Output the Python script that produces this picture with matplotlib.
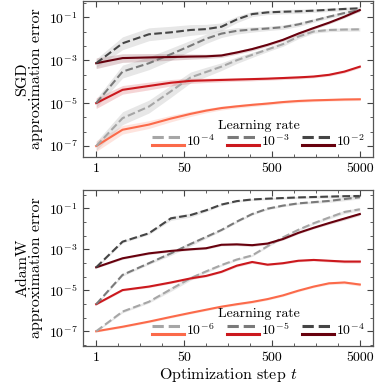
import matplotlib
matplotlib.use('Agg')
import matplotlib.pyplot as plt
import matplotlib.ticker as mticker
from matplotlib.lines import Line2D
from matplotlib.legend_handler import HandlerBase
import numpy as np

plt.rcParams['font.family'] = 'serif'
plt.rcParams['font.serif'] = ['cmr10', 'DejaVu Serif']
plt.rcParams['mathtext.fontset'] = 'cm'
plt.rcParams['axes.unicode_minus'] = False

# evaluation positions (equally spaced axis, labelled 1 / 50 / 500 / 5000)
x_pos = [0, 1.2, 2.4, 3.4, 4.3, 5.0, 5.7, 6.4, 7.1, 7.8, 8.5, 9.2, 9.9, 10.6, 11.3, 12]
tick_pos = [0, 4, 8, 12]
tick_labels = ['1', '50', '500', '5000']

# log10 of approximation error, SGD (gray = dashed, red = solid)
sgd_lrs = [r'$10^{-4}$', r'$10^{-3}$', r'$10^{-2}$']
sgd_gray = [
    [-7.0, -5.7, -5.16, -4.45, -3.8, -3.55, -3.3, -3.0, -2.75, -2.5, -2.25, -1.9, -1.66, -1.59, -1.57, -1.56],
    [-5.0, -3.53, -3.14, -2.72, -2.32, -2.0, -1.76, -1.63, -1.57, -1.52, -1.46, -1.33, -1.15, -0.97, -0.8, -0.66],
    [-3.14, -2.21, -1.79, -1.7, -1.59, -1.55, -1.44, -1.1, -0.85, -0.77, -0.74, -0.72, -0.69, -0.65, -0.61, -0.58],
]
sgd_red = [
    [-7.0, -6.24, -6.0, -5.72, -5.5, -5.35, -5.23, -5.15, -5.08, -5.02, -4.95, -4.9, -4.87, -4.85, -4.83, -4.82],
    [-5.0, -4.38, -4.2, -4.05, -3.96, -3.94, -3.92, -3.9, -3.88, -3.86, -3.83, -3.8, -3.76, -3.68, -3.53, -3.3],
    [-3.14, -2.9, -2.87, -2.85, -2.83, -2.82, -2.78, -2.64, -2.48, -2.28, -2.05, -1.76, -1.5, -1.25, -0.97, -0.66],
]
sgd_band_gray = [0.2, 0.3, 0.3, 0.28, 0.25, 0.22, 0.18, 0.15, 0.12, 0.1, 0.1, 0.1, 0.08, 0.08, 0.08, 0.08]
sgd_band_red = [0.25, 0.2, 0.18, 0.15, 0.12, 0.1, 0.09, 0.08, 0.08, 0.07, 0.07, 0.07, 0.06, 0.06, 0.06, 0.06]

# log10 of approximation error, AdamW
adam_lrs = [r'$10^{-6}$', r'$10^{-5}$', r'$10^{-4}$']
adam_gray = [
    [-7.0, -6.04, -5.56, -4.95, -4.41, -4.08, -3.77, -3.5, -3.3, -2.85, -2.42, -2.05, -1.73, -1.45, -1.18, -1.05],
    [-5.68, -4.25, -3.68, -3.2, -2.74, -2.4, -2.06, -1.65, -1.28, -1.02, -0.87, -0.76, -0.7, -0.64, -0.55, -0.46],
    [-3.88, -2.63, -2.22, -1.49, -1.33, -1.1, -0.82, -0.65, -0.57, -0.53, -0.5, -0.47, -0.45, -0.43, -0.41, -0.4],
]
adam_red = [
    [-7.0, -6.78, -6.53, -6.3, -6.1, -5.95, -5.8, -5.68, -5.57, -5.43, -5.25, -5.02, -4.82, -4.66, -4.62, -4.72],
    [-5.68, -4.99, -4.82, -4.62, -4.42, -4.3, -4.1, -3.8, -3.62, -3.75, -3.68, -3.56, -3.52, -3.56, -3.6, -3.6],
    [-3.88, -3.44, -3.2, -3.08, -3.0, -2.95, -2.78, -2.76, -2.8, -2.72, -2.5, -2.2, -1.95, -1.72, -1.5, -1.28],
]
adam_band_gray = [0.04, 0.06, 0.06, 0.1, 0.1, 0.07, 0.05, 0.05, 0.05, 0.05, 0.05, 0.05, 0.06, 0.07, 0.08, 0.08]
adam_band_red = [0.04, 0.05, 0.05, 0.05, 0.05, 0.05, 0.05, 0.06, 0.06, 0.05, 0.05, 0.05, 0.05, 0.06, 0.07, 0.07]

gray_colors = ['#a6a6a6', '#7a7a7a', '#454545']
red_colors = ['#fb6a4a', '#cb181d', '#67000d']


class HandlerPair(HandlerBase):
    # two stacked lines: dashed gray on top, solid red below
    def create_artists(self, legend, orig_handle, xdescent, ydescent,
                       width, height, fontsize, trans):
        artists = []
        for h, frac in zip(orig_handle, (0.9, 0.1)):
            y = height * frac - ydescent
            l = Line2D([-xdescent, -xdescent + width], [y, y],
                       color=h.get_color(), linestyle=h.get_linestyle(),
                       linewidth=2.2, transform=trans)
            artists.append(l)
        return artists


def draw_panel(ax, grays, reds, band_g, band_r, lrs, ylabel, ylim):
    x = np.array(x_pos)
    handles = []
    for i in range(3):
        r = np.array(reds[i])
        g = np.array(grays[i])
        ax.fill_between(x, 10**(r - np.array(band_r)), 10**(r + np.array(band_r)),
                        color=red_colors[i], alpha=0.18, lw=0)
        ax.fill_between(x, 10**(g - np.array(band_g)), 10**(g + np.array(band_g)),
                        color='#b0b0b0', alpha=0.3, lw=0)
    for i in range(3):
        lr, = ax.plot(x, 10**np.array(reds[i]), color=red_colors[i], lw=1.5)
        lg, = ax.plot(x, 10**np.array(grays[i]), color=gray_colors[i], lw=1.5, ls='--')
        handles.append((lg, lr))
    ax.set_yscale('log')
    ax.set_xlim(-0.6, 12.6)
    ax.set_ylim(10**ylim[0], 10**ylim[1])
    ax.xaxis.set_major_locator(mticker.FixedLocator(tick_pos))
    ax.xaxis.set_major_formatter(mticker.FixedFormatter(tick_labels))
    ax.xaxis.set_minor_locator(mticker.FixedLocator(np.arange(0, 13)))
    ax.yaxis.set_major_locator(mticker.FixedLocator([1e-1, 1e-3, 1e-5, 1e-7]))
    ax.yaxis.set_major_formatter(mticker.FixedFormatter(
        [r'$10^{-1}$', r'$10^{-3}$', r'$10^{-5}$', r'$10^{-7}$']))
    ax.yaxis.set_minor_locator(mticker.FixedLocator(
        [10**(-1 + 2 * k / 3) for k in range(-10, 2)]))
    ax.yaxis.set_minor_formatter(mticker.NullFormatter())
    ax.tick_params(which='both', direction='in', top=True, right=True,
                   labelsize=10, color='#444444')
    ax.tick_params(which='major', length=4, pad=4)
    ax.tick_params(which='minor', length=2)
    for s in ax.spines.values():
        s.set_color('#555555')
        s.set_linewidth(0.9)
    ax.set_ylabel(ylabel, fontsize=11.5, linespacing=1.0, labelpad=4)
    leg = ax.legend(handles, lrs, handler_map={tuple: HandlerPair()},
                    title='Learning rate', ncol=3, loc='lower right',
                    frameon=False, fontsize=10, title_fontsize=10,
                    handlelength=2.3, handleheight=0.7, handletextpad=0.15,
                    columnspacing=0.9, borderaxespad=0.5, borderpad=0.1,
                    labelspacing=0.2)
    leg._legend_box.sep = 1


fig = plt.figure(figsize=(3.78, 3.88), dpi=100)
ax1 = fig.add_axes([0.2196, 0.5954, 0.7672, 0.402])
ax2 = fig.add_axes([0.2196, 0.1082, 0.7672, 0.402])

draw_panel(ax1, sgd_gray, sgd_red, sgd_band_gray, sgd_band_red, sgd_lrs,
           'SGD\napproximation error', (-7.51, -0.24))
draw_panel(ax2, adam_gray, adam_red, adam_band_gray, adam_band_red, adam_lrs,
           'AdamW\napproximation error', (-7.72, -0.11))
ax2.set_xlabel(r'Optimization step $t$', fontsize=11.5, labelpad=2)

fig.savefig('out.png', dpi=100)
